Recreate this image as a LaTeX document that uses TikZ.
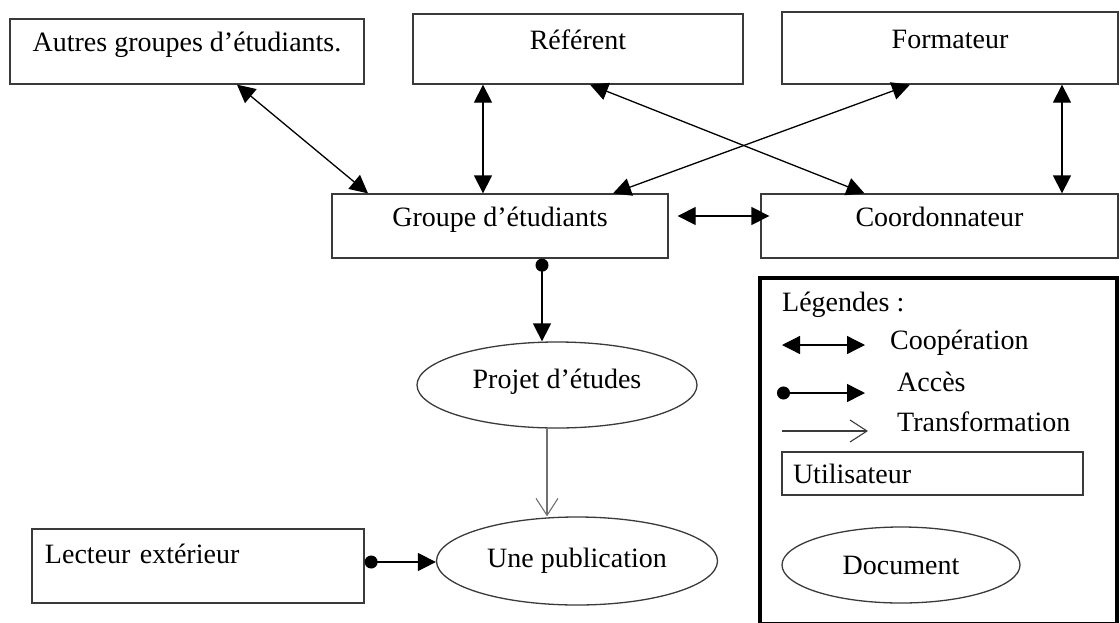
\documentclass[tikz,border=0pt]{standalone}
\usepackage{fontspec}
\setmainfont{Liberation Serif}
\usepackage{tikz}
\usetikzlibrary{positioning,arrows.meta,shapes.geometric}
\definecolor{trait}{HTML}{3a3a3a}
\definecolor{gristrait}{HTML}{707070}

\begin{document}
\begin{tikzpicture}[
        x=1pt, y=-1pt,
        every node/.style={
            font=\fontsize{28}{32}\selectfont,
            text=black
        },
        boite/.style={
            rectangle,
            draw=trait,
            line width=1.3pt,
            inner sep=0pt,
            text height=14pt,
            text depth=14pt
        },
        bulle/.style={
            ellipse,
            draw=trait,
            line width=1.3pt,
            inner sep=0pt
        },
        coop/.style={
            >={Triangle[length=18pt,width=18pt]},
            <->,
            line width=1.3pt
        },
        acces/.style={
            >={Triangle[length=18pt,width=18pt]},
            {Circle[length=13pt,width=13pt]}->,
            line width=1.5pt
        },
        transfo/.style={
            -{Straight Barb[length=17pt,width=22pt,line width=1.1pt]},
            line width=1.3pt,
            draw=gristrait
        },
        texte/.style={
            anchor=west,
            inner sep=0pt
        }
    ]
        \useasboundingbox (0,0) rectangle (1120,622);

        \node (autres) [boite, minimum width=354pt, minimum height=65pt] at (187,51.5) {Autres groupes d'étudiants.};
        \node (referent) [boite, minimum width=330pt, minimum height=70pt] at (578,49) {Référent};
        \node (formateur) [boite, minimum width=336pt, minimum height=72pt] at (950,48) {Formateur};
        \node (groupe) [boite, minimum width=336pt, minimum height=64pt] at (500,226) {Groupe d'étudiants};
        \node (coordo) [boite, right of=groupe, node distance=439.5pt, minimum width=357pt, minimum height=64pt] {Coordonnateur};
        \node (projet) [bulle, minimum width=280pt, minimum height=86pt, text height=19pt, text depth=12pt] at (557,385) {Projet d'études};
        \node (publication) [bulle, minimum width=281pt, minimum height=88pt] at (577,561) {Une publication};
        \node (lecteur) [boite, minimum height=74pt, text width=306pt, align=left, inner xsep=13pt, text depth=19pt] at (198,566) {Lecteur extérieur};

        \draw[coop] ([xshift=50pt]autres.south) -- ([xshift=-132pt]groupe.north);
        \draw[coop] ([xshift=-95pt]referent.south) -- ([xshift=-95pt]referent.south |- groupe.north);
        \draw[coop] ([xshift=12pt]referent.south) -- ([xshift=-75pt]coordo.north);
        \draw[coop] ([xshift=-40pt]formateur.south) -- ([xshift=113pt]groupe.north);
        \draw[coop] ([xshift=112pt]formateur.south) -- ([xshift=112pt]formateur.south |- coordo.north);
        \draw[coop] ([shift={(9,-10)}]groupe.east) -- ([shift={(9,-10)}]groupe.east -| coordo.west);
        \draw[acces] ([xshift=42pt]groupe.south) -- ([xshift=42pt]groupe.south |- projet.north);
        \draw[transfo] ([xshift=-10pt]projet.south) -- ([xshift=-10pt]projet.south |- publication.north);
        \draw[acces] ([yshift=4pt]lecteur.east) -- ([yshift=4pt]lecteur.east -| publication.west);

        \node (legende) [draw, line width=4pt, minimum width=357pt, minimum height=346pt, inner sep=0pt] at (938.5,451) {};
        \node (titre) [texte] at (782,305) {Légendes :};
        \coordinate (coopA) at (782,345);
        \coordinate (coopB) at (865,345);
        \node (cooptxt) [texte] at (890,343) {Coopération};
        \coordinate (accA) at (777,393);
        \coordinate (accB) at (865,393);
        \node (acctxt) [texte] at (897,382) {Accès};
        \coordinate (trA) at (782,431);
        \coordinate (trB) at (868,431);
        \node (trtxt) [texte] at (897,422) {Transformation};
        \draw[coop] (coopA) -- (coopB);
        \draw[acces] (accA) -- (accB);
        \draw[transfo, draw=trait] (trA) -- (trB);
        \node (util) [boite, minimum height=43pt, text width=279pt, align=left, inner xsep=11pt, text height=20pt, text depth=0pt] at (932.5,473.5) {Utilisateur};
        \node (document) [bulle, minimum width=238pt, minimum height=76pt] at (901,565) {Document};
    \end{tikzpicture}
\end{document}
